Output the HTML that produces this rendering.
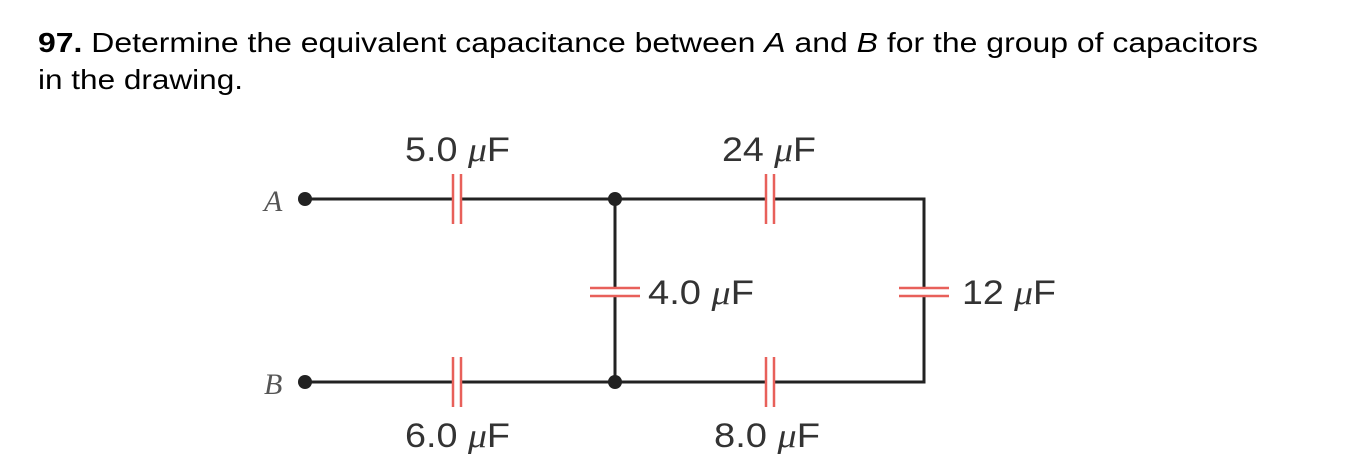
<!DOCTYPE html>
<html><head><meta charset="utf-8"><style>
html,body{margin:0;padding:0;background:#fff;}
svg{display:block;}
</style></head><body>
<svg width="1356" height="474" xmlns="http://www.w3.org/2000/svg">
<text x="38" y="52" font-family="Liberation Sans, sans-serif" font-size="28" fill="#000" textLength="1220" lengthAdjust="spacingAndGlyphs"><tspan font-weight="bold">97.</tspan> Determine the equivalent capacitance between <tspan font-style="italic">A</tspan> and <tspan font-style="italic">B</tspan> for the group of capacitors</text>
<text x="38" y="89" font-family="Liberation Sans, sans-serif" font-size="28" fill="#000" textLength="205" lengthAdjust="spacingAndGlyphs">in the drawing.</text>

<g stroke="#222" stroke-width="3" fill="none">
<path d="M305 199 H453 M461 199 H766 M774 199 H924 V288 M924 296 V382 H774 M766 382 H461 M453 382 H305"/>
<path d="M615 199 V288 M615 296 V382"/>
</g>
<g fill="#222">
<circle cx="305" cy="199" r="7"/><circle cx="305" cy="382" r="7"/>
<circle cx="615" cy="199" r="7"/><circle cx="615" cy="382" r="7"/>
</g>
<g stroke="#e8605a" stroke-width="2.5">
<path d="M453 174 V224 M461 174 V224"/>
<path d="M453 357 V407 M461 357 V407"/>
<path d="M766 174 V224 M774 174 V224"/>
<path d="M766 357 V407 M774 357 V407"/>
<path d="M590 288 H640 M590 296 H640"/>
<path d="M899 288 H949 M899 296 H949"/>
</g>
<g font-family="Liberation Sans, sans-serif" font-size="34" fill="#333" lengthAdjust="spacingAndGlyphs">
<text x="405" y="161" textLength="105" lengthAdjust="spacingAndGlyphs">5.0 <tspan font-family="Liberation Serif, serif" font-style="italic">μ</tspan>F</text>
<text x="722" y="161" textLength="94" lengthAdjust="spacingAndGlyphs">24 <tspan font-family="Liberation Serif, serif" font-style="italic">μ</tspan>F</text>
<text x="648" y="304" textLength="106" lengthAdjust="spacingAndGlyphs">4.0 <tspan font-family="Liberation Serif, serif" font-style="italic">μ</tspan>F</text>
<text x="962" y="304" textLength="94" lengthAdjust="spacingAndGlyphs">12 <tspan font-family="Liberation Serif, serif" font-style="italic">μ</tspan>F</text>
<text x="405" y="447" textLength="105" lengthAdjust="spacingAndGlyphs">6.0 <tspan font-family="Liberation Serif, serif" font-style="italic">μ</tspan>F</text>
<text x="714" y="447" textLength="106" lengthAdjust="spacingAndGlyphs">8.0 <tspan font-family="Liberation Serif, serif" font-style="italic">μ</tspan>F</text>
</g>
<text x="264" y="211" font-family="Liberation Serif, serif" font-style="italic" font-size="30" fill="#555">A</text>
<text x="264" y="394" font-family="Liberation Serif, serif" font-style="italic" font-size="30" fill="#555">B</text>
</svg>
</body></html>
